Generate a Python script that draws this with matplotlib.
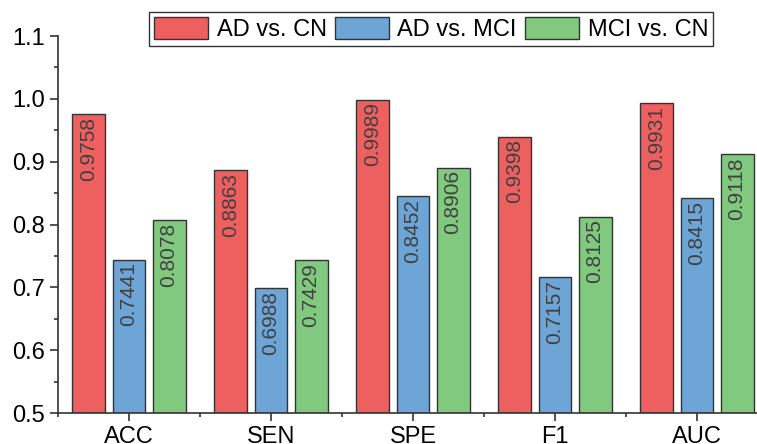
import matplotlib
matplotlib.use("Agg")
import matplotlib.pyplot as plt
import numpy as np
from matplotlib.ticker import MultipleLocator, FixedLocator

categories = ["ACC", "SEN", "SPE", "F1", "AUC"]
series_names = ["AD vs. CN", "AD vs. MCI", "MCI vs. CN"]
ad_cn = [0.9758, 0.8863, 0.9989, 0.9398, 0.9931]
ad_mci = [0.7441, 0.6988, 0.8452, 0.7157, 0.8415]
mci_cn = [0.8078, 0.7429, 0.8906, 0.8125, 0.9118]
colors = ["#EE5F5F", "#6DA5D6", "#80C97F"]

plt.rcParams['font.family'] = ['Liberation Sans', 'DejaVu Sans']

fig = plt.figure(figsize=(7.57, 4.44), dpi=100)
ax = fig.add_axes([58/757, 31/444, 710/757, 377/444])

x = np.arange(len(categories))
width = 0.232
offsets = [-0.282, 0.0, 0.282]
for vals, name, c, off in zip([ad_cn, ad_mci, mci_cn], series_names, colors, offsets):
    bars = ax.bar(x + off, np.array(vals) - 0.5, width, bottom=0.5, color=c,
                  edgecolor="#333333", linewidth=1.0, label=name, zorder=2)
    for xi, v in zip(x + off, vals):
        ax.annotate(f"{v:.4f}", xy=(xi, v), xytext=(0, -2), textcoords="offset points",
                    rotation=90, ha="center", va="top", fontsize=15, color="#404040",
                    zorder=3)

ax.set_xlim(-0.5, 4.5)
ax.set_ylim(0.5, 1.1)
ax.yaxis.set_major_locator(MultipleLocator(0.1))
ax.yaxis.set_minor_locator(MultipleLocator(0.05))
ax.set_xticks(x)
ax.set_xticklabels(categories)
ax.xaxis.set_minor_locator(FixedLocator(np.arange(-0.5, 5.0, 1.0)))
ax.yaxis.set_major_formatter(matplotlib.ticker.FormatStrFormatter('%.1f'))

for s in ["top", "right"]:
    ax.spines[s].set_visible(False)
for s in ["left", "bottom"]:
    ax.spines[s].set_color("#333333")
    ax.spines[s].set_linewidth(1.2)

ax.tick_params(axis="both", which="major", direction="out", length=6, width=1.2,
               colors="#333333", labelsize=17, labelcolor="black")
ax.tick_params(axis="both", which="minor", direction="out", length=3, width=1.2,
               colors="#333333")
ax.tick_params(axis="x", which="major", pad=3)

leg = fig.legend(loc="upper center", bbox_to_anchor=(431/757, 1 - 12/444), ncol=3,
                 fontsize=17, frameon=True, fancybox=False, edgecolor="black",
                 handlelength=2.3, handleheight=1.1, handletextpad=0.35,
                 columnspacing=0.35, borderpad=0.2, borderaxespad=0)
leg.get_frame().set_linewidth(1.0)

fig.savefig("out.png", dpi=100)
